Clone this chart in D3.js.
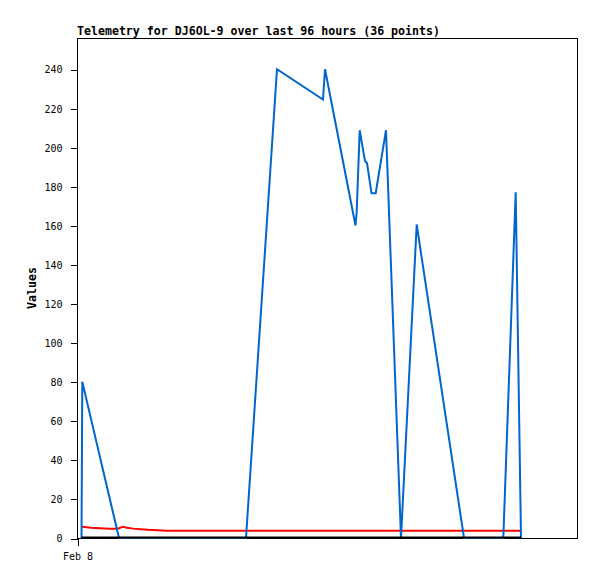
<!DOCTYPE html>
<html>
<head>
<meta charset="utf-8">
<script src="https://cdn.jsdelivr.net/npm/d3@7"></script>
<style>
  html, body { margin: 0; padding: 0; background: #fff; }
  svg { display: block; }
</style>
</head>
<body>
<script>
// ---- data (hours since Feb 8 00:00) ----
const hours = [0.9, 1.06, 2.8, 6.4, 8.0, 8.4, 9.2, 10.0, 11.2, 14.2, 18.0, 33.8,
  40.0, 49.2, 49.6, 55.7, 55.94, 56.54, 57.6, 58.0, 58.9, 59.74, 61.8, 64.8,
  67.94, 77.4, 85.26, 87.74, 88.8];
const blueValues = [0, 80, 61, 21.8, 4.3, 0, 0, 0, 0, 0, 0, 0,
  240, 224.5, 240, 160, 167, 208.8, 193, 192, 176.5, 176.5, 208.8, 0,
  160.5, 0, 0, 177, 0];
const redValues = [5.8, 5.8, 5.3, 4.8, 4.8, 5.0, 5.8, 5.3, 4.8, 4.2, 3.7, 3.7,
  3.7, 3.7, 3.7, 3.7, 3.7, 3.7, 3.7, 3.7, 3.7, 3.7, 3.7, 3.7,
  3.7, 3.7, 3.7, 3.7, 3.7];
const blackValues = hours.map(() => 0);
const yTicks = [0, 20, 40, 60, 80, 100, 120, 140, 160, 180, 200, 220, 240];
const xTicks = [0];
const xTickLabels = ["Feb 8"];
const titleText = "Telemetry for DJ6OL-9 over last 96 hours (36 points)";
const yLabel = "Values";

(function () {
  // ---- layout ----
  const W = 597, H = 579;
  const mLeft = 77, mTop = 38, pw = 500, ph = 500;

  const svg = d3.select("body").append("svg").attr("width", W).attr("height", H);

  const x = d3.scaleLinear().domain([0, 100]).range([mLeft, mLeft + pw]);
  const y = d3.scaleLinear().domain([0, 256]).range([mTop + ph, mTop]);

  const mono = "'DejaVu Sans Mono', 'Liberation Mono', monospace";

  // frame
  svg.append("rect").attr("x", mLeft + 0.5).attr("y", mTop + 0.5)
    .attr("width", pw).attr("height", ph)
    .attr("fill", "none").attr("stroke", "#000").attr("stroke-width", 1)
    .attr("shape-rendering", "crispEdges");

  // y axis
  const yAxis = d3.axisLeft(y).tickValues(yTicks).tickSize(7).tickPadding(8).tickFormat(d3.format("d"));
  const gy = svg.append("g").attr("transform", `translate(${mLeft + 0.5},0.5)`).call(yAxis);
  gy.select(".domain").remove();
  gy.selectAll("line").attr("stroke", "#000").attr("shape-rendering", "crispEdges");
  gy.selectAll("text").attr("font-family", mono).attr("font-size", "10px").attr("fill", "#000");

  // x axis
  const xAxis = d3.axisBottom(x).tickValues(xTicks).tickSize(7).tickPadding(7)
    .tickFormat((d, i) => xTickLabels[i]);
  const gx = svg.append("g").attr("transform", `translate(0.5,${mTop + ph + 0.5})`).call(xAxis);
  gx.select(".domain").remove();
  gx.selectAll("line").attr("stroke", "#000").attr("shape-rendering", "crispEdges");
  gx.selectAll("text").attr("font-family", mono).attr("font-size", "10px").attr("fill", "#000");

  // series
  const line = (vals) => d3.line().x((d, i) => x(hours[i])).y(d => y(d))(vals);

  svg.append("path").attr("d", line(redValues)).attr("fill", "none")
    .attr("stroke", "#ff0000").attr("stroke-width", 2);
  svg.append("path").attr("d", line(blueValues)).attr("fill", "none")
    .attr("stroke", "#0066cc").attr("stroke-width", 2);
  svg.append("path").attr("d", line(blackValues)).attr("fill", "none")
    .attr("stroke", "#000").attr("stroke-width", 2)
    .attr("transform", "translate(0,-0.5)");

  // title
  svg.append("text").attr("x", mLeft).attr("y", 35)
    .attr("font-family", mono).attr("font-weight", "bold").attr("font-size", "11.6px")
    .attr("fill", "#000").text(titleText);

  // y label
  svg.append("text").attr("transform", "translate(36,288) rotate(-90)")
    .attr("text-anchor", "middle")
    .attr("font-family", mono).attr("font-weight", "bold").attr("font-size", "11.6px")
    .attr("fill", "#000").text(yLabel);
})();
</script>
</body>
</html>
